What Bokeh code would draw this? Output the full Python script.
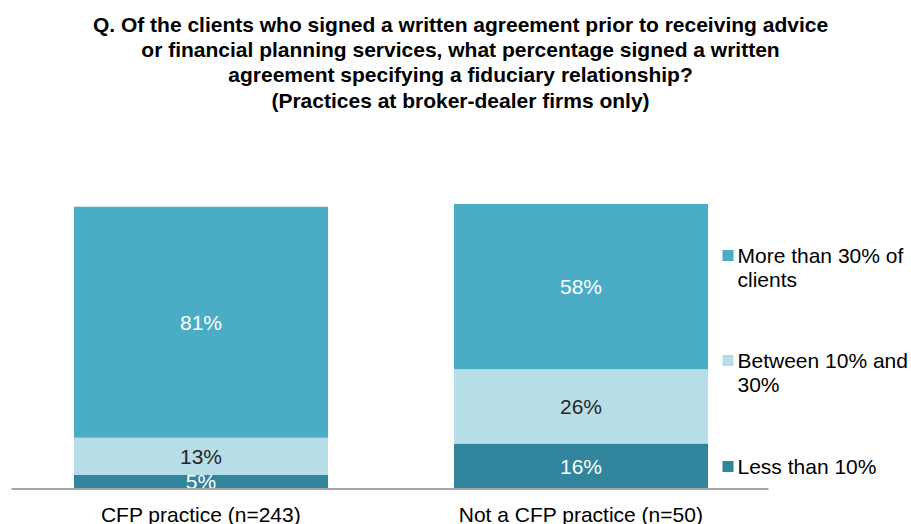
import numpy as np
from bokeh.plotting import figure
from bokeh.models import ColumnDataSource, Range1d
from bokeh.core.properties import value
from bokeh.embed import file_html
from bokeh.resources import INLINE

# ---------------- data ----------------
categories = ["CFP practice (n=243)", "Not a CFP practice (n=50)"]
less_than_10 = [5, 16]
between_10_30 = [13, 26]
more_than_30 = [81, 58]
series_keys = ["less", "between", "more"]
series_colors = ["#31859C", "#B7DEE8", "#4BACC6"]
label_colors = ["#FFFFFF", "#262626", "#FFFFFF"]
legend_labels = ["More than 30% of\nclients", "Between 10% and\n30%", "Less than 10%"]
legend_colors = ["#4BACC6", "#B7DEE8", "#31859C"]
title_lines = [
    "Q. Of the clients who signed a written agreement prior to receiving advice",
    "or financial planning services, what percentage signed a written",
    "agreement specifying a fiduciary relationship?",
    "(Practices at broker-dealer firms only)",
]

FONT = "Liberation Sans"
W, H = 911, 524
PX_X = 380.0      # pixels per category step
X0 = 200.5        # canvas px of category 0
PX_Y = 2.85       # pixels per percentage point
Y0 = 488.5        # canvas px of 0%


def xd(px):
    return (px - X0) / PX_X


def yd(py):
    return (Y0 - py) / PX_Y


p = figure(width=W, height=H, output_backend="svg", toolbar_location=None,
           x_range=Range1d(-X0 / PX_X, (W - X0) / PX_X),
           y_range=Range1d(-(H - Y0) / PX_Y, Y0 / PX_Y),
           x_axis_location=None, y_axis_location=None,
           outline_line_color=None, background_fill_color="white",
           border_fill_color="white")
p.min_border = 0
p.min_border_left = 0
p.min_border_right = 0
p.min_border_top = 0
p.min_border_bottom = 0
p.xgrid.visible = False
p.ygrid.visible = False

xs = list(range(len(categories)))
src = ColumnDataSource(dict(x=xs, less=less_than_10, between=between_10_30, more=more_than_30))
p.vbar_stack(series_keys, x="x", width=254 / PX_X, color=series_colors,
             line_color=None, source=src)

# segment labels
vals = np.array([less_than_10, between_10_30, more_than_30], dtype=float)
cum = np.cumsum(vals, axis=0)
for i in range(vals.shape[0]):
    centers = cum[i] - vals[i] / 2
    p.text(x=xs, y=list(centers), text=[f"{int(v)}%" for v in vals[i]],
           text_font=value(FONT), text_font_size="21px", text_color=label_colors[i],
           text_align="center", text_baseline="middle")

# baseline
p.segment(x0=[xd(11)], y0=[0], x1=[xd(768)], y1=[0], line_color="#A6A6A6", line_width=2)

# category labels
p.text(x=xs, y=[yd(513.5)] * len(xs), text=categories, text_font=value(FONT),
       text_font_size="21px", text_color="#000000", text_align="center",
       text_baseline="middle")

# legend
legend_y = [255, 360, 466]
for lab, col, ly in zip(legend_labels, legend_colors, legend_y):
    p.scatter(x=[xd(727.5)], y=[yd(ly)], marker="square", size=11,
              fill_color=col, line_color=None)
    lines = lab.split("\n")
    p.text(x=[xd(737)] * len(lines), y=[yd(ly + 24 * k) for k in range(len(lines))],
           text=lines, text_font=value(FONT), text_font_size="21px",
           text_color="#000000", text_align="left", text_baseline="middle")

# title
title_y = [23.5, 48.5, 74, 99.5]
p.text(x=[xd(460)] * len(title_lines), y=[yd(t) for t in title_y], text=title_lines,
       text_font=value(FONT), text_font_size="21px", text_font_style="bold",
       text_color="#000000", text_align="center", text_baseline="middle")

open("out.html", "w").write(file_html(p, INLINE))
